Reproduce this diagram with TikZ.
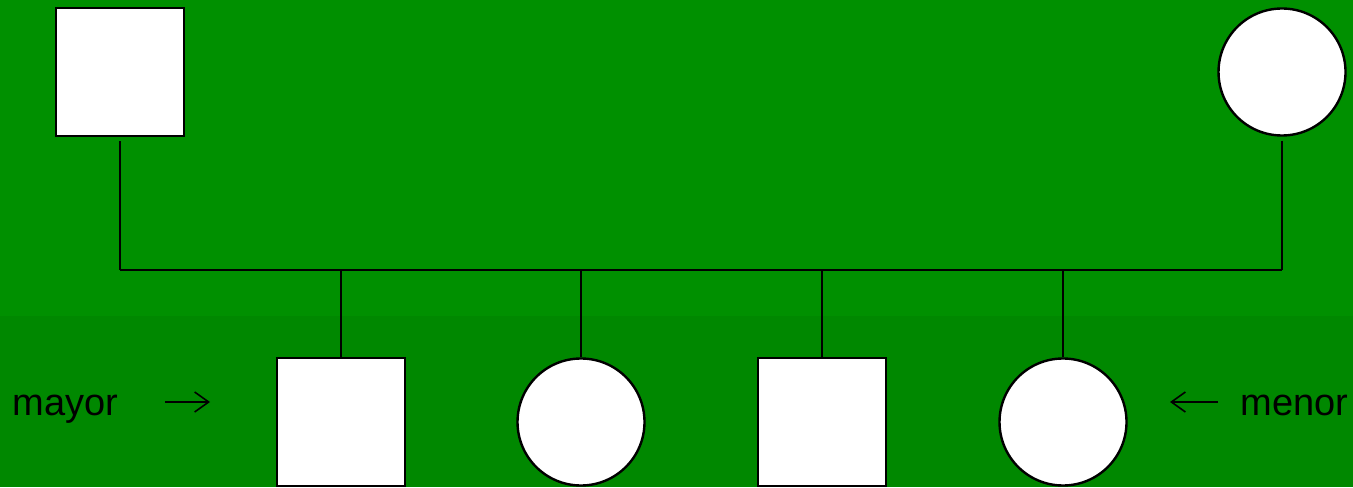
\documentclass[tikz,border=0pt]{standalone}
\usepackage{fontspec}
\setmainfont{Liberation Sans}
\usepackage{tikz}
\usetikzlibrary{arrows.meta,positioning}
\definecolor{field}{HTML}{009000}
\definecolor{band}{HTML}{008800}
\tikzset{male/.style={draw=black,fill=white,line width=1.2pt,minimum size=64pt,inner sep=0pt},female/.style={circle,draw=black,fill=white,line width=1.2pt,minimum size=63.5pt,inner sep=0pt},link/.style={line width=1pt,black},tag/.style={font=\fontsize{19}{23}\selectfont,inner sep=0pt},pointer/.style={-{Straight Barb[length=7pt,width=10pt]},line width=.8pt,black}}

\begin{document}
\begin{tikzpicture}[x=0.5pt,y=0.5pt]
\useasboundingbox (0,0) rectangle (1353,487);
\fill[field] (0,0) rectangle (1353,487);
\fill[band] (0,0) rectangle (1353,171);
% parents
\node[male] (dad) at (120,415) {};
\node[female] (mom) at (1282,415) {};
\coordinate (busL) at (120,217);
\coordinate (busR) at (1282,217);
\draw[link,shorten <=2pt] (dad.south) -- (busL);
\draw[link,shorten <=2pt] (mom.south) -- (busR);
\draw[link] (busL) -- (busR);
% children
\node[male] (c1) at (341,65) {};
\node[female] (c2) at (581,65) {};
\node[male] (c3) at (822,65) {};
\node[female] (c4) at (1063,65) {};
\foreach \c in {c1,c2,c3,c4}{\draw[link] (\c.north) -- (\c.north |- busL);}
% labels
\node[tag,anchor=base west] (mayor) at (12,72) {mayor};
\node[tag,anchor=base west] (menor) at (1240,72) {menor};
\coordinate (pL1) at (165,85);
\coordinate (pL2) at (210,85);
\coordinate (pR1) at (1218,85);
\coordinate (pR2) at (1170,85);
\draw[pointer] (pL1) -- (pL2);
\draw[pointer] (pR1) -- (pR2);
\end{tikzpicture}
\end{document}
